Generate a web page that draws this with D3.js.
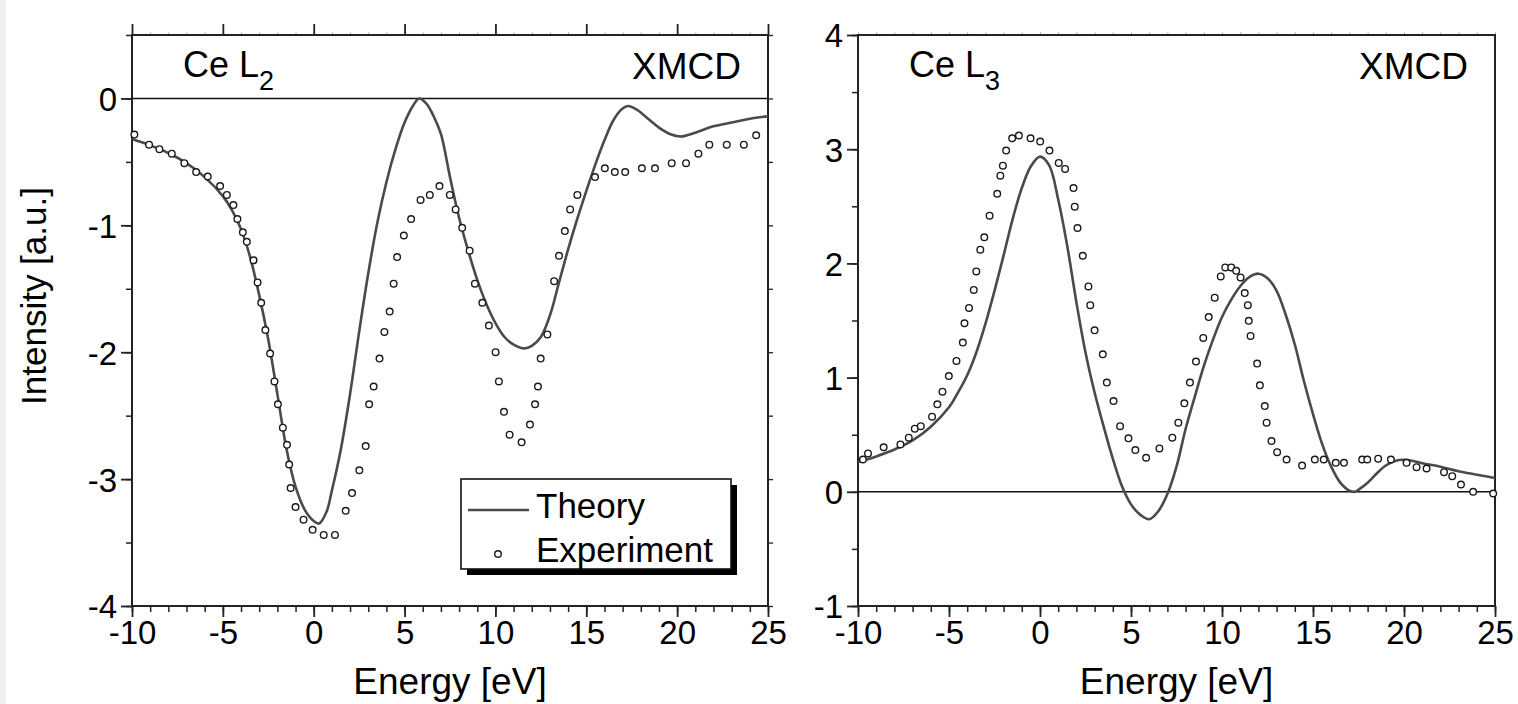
<!DOCTYPE html>
<html><head><meta charset="utf-8">
<script src="https://cdn.jsdelivr.net/npm/d3@7"></script>
<style>
html,body{margin:0;padding:0;background:#fff;}
svg{display:block;font-family:"Liberation Sans",Arial,sans-serif;}
</style></head>
<body><svg id="c" width="1518" height="704"></svg>
<script>
// ---------- data ----------
const energyTicks = [-10,-5,0,5,10,15,20,25];
const l2Ticks = [0,-1,-2,-3,-4];
const l3Ticks = [4,3,2,1,0,-1];

const l2Theory = [[-10,-0.32],[-9,-0.37],[-8,-0.43],[-7,-0.51],[-6,-0.62],[-5,-0.77],[-4.5,-0.88],[-4,-1.03],
 [-3.5,-1.25],[-3,-1.55],[-2.5,-1.9],[-2,-2.33],[-1.5,-2.76],[-1,-3.06],[-0.5,-3.24],[0,-3.33],[0.3,-3.35],
 [0.7,-3.26],[1,-3.09],[1.5,-2.76],[2,-2.33],[2.5,-1.84],[3,-1.38],[3.5,-0.98],[4,-0.66],[4.5,-0.4],[5,-0.19],
 [5.5,-0.05],[5.8,0.0],[6.2,-0.04],[6.6,-0.14],[7,-0.28],[7.5,-0.62],[8,-0.94],[8.5,-1.2],[9,-1.43],[9.5,-1.62],
 [10,-1.77],[10.5,-1.88],[11,-1.94],[11.6,-1.97],[12,-1.95],[12.5,-1.88],[13,-1.71],[13.5,-1.45],[14,-1.19],
 [14.5,-0.95],[15,-0.73],[15.5,-0.52],[16,-0.33],[16.5,-0.17],[17,-0.08],[17.3,-0.06],[17.8,-0.09],[18.4,-0.16],
 [19,-0.23],[19.6,-0.28],[20.2,-0.3],[21,-0.27],[22,-0.22],[23,-0.19],[24,-0.16],[25,-0.14]];

const l2Experiment = [[-9.87,-0.285],[-9.06,-0.364],[-8.49,-0.4],[-7.81,-0.435],[-7.12,-0.51],[-6.47,-0.58],
 [-5.83,-0.615],[-5.15,-0.69],[-4.78,-0.76],[-4.42,-0.84],[-4.2,-0.95],[-3.9,-1.055],[-3.68,-1.13],[-3.31,-1.275],
 [-3.09,-1.45],[-2.89,-1.61],[-2.66,-1.825],[-2.4,-2.01],[-2.16,-2.23],[-1.97,-2.41],[-1.7,-2.595],[-1.47,-2.73],
 [-1.35,-2.885],[-1.27,-3.07],[-1.0,-3.22],[-0.56,-3.32],[-0.06,-3.4],[0.55,-3.44],[1.17,-3.44],[1.76,-3.25],
 [2.11,-3.11],[2.51,-2.93],[2.86,-2.74],[3.05,-2.41],[3.3,-2.27],[3.62,-2.05],[3.89,-1.84],[4.18,-1.68],[4.4,-1.46],
 [4.59,-1.25],[4.96,-1.08],[5.36,-0.95],[5.88,-0.8],[6.39,-0.76],[6.92,-0.69],[7.49,-0.76],[7.81,-0.875],
 [8.17,-1.02],[8.58,-1.2],[8.87,-1.46],[9.28,-1.61],[9.64,-1.79],[10.01,-2.0],[10.19,-2.23],[10.47,-2.47],
 [10.78,-2.65],[11.44,-2.71],[11.9,-2.57],[12.18,-2.41],[12.34,-2.27],[12.49,-2.05],[12.86,-1.86],[13.23,-1.44],
 [13.5,-1.24],[13.82,-1.045],[14.11,-0.875],[14.51,-0.76],[15.48,-0.62],[16.02,-0.55],[16.57,-0.58],[17.14,-0.58],
 [18.06,-0.55],[18.78,-0.55],[19.7,-0.51],[20.49,-0.51],[21.17,-0.435],[21.77,-0.364],[22.73,-0.364],[23.67,-0.364],
 [24.35,-0.29]];

const l3Theory = [[-10,0.26],[-9,0.31],[-8,0.37],[-7,0.45],[-6,0.57],[-5,0.74],[-4.5,0.87],[-4,1.02],[-3.5,1.22],
 [-3,1.47],[-2.5,1.76],[-2,2.07],[-1.5,2.39],[-1,2.66],[-0.5,2.85],[0,2.935],[0.5,2.86],[1,2.56],[1.5,2.15],
 [2,1.66],[2.5,1.22],[3,0.87],[3.5,0.57],[4,0.29],[4.5,0.05],[5,-0.11],[5.5,-0.2],[6,-0.24],[6.5,-0.17],[7,-0.02],
 [7.5,0.22],[8,0.55],[8.5,0.83],[9,1.1],[9.5,1.33],[10,1.53],[10.5,1.68],[11,1.8],[11.5,1.88],[12,1.91],[12.5,1.87],
 [13,1.76],[13.5,1.55],[14,1.29],[14.5,0.97],[15,0.68],[15.5,0.42],[16,0.22],[16.5,0.08],[17,0.01],[17.3,0.0],
 [17.6,0.03],[18,0.08],[18.5,0.16],[19,0.23],[19.5,0.27],[20,0.28],[20.5,0.27],[21,0.25],[22,0.22],[23,0.18],
 [24,0.15],[25,0.12]];

const l3Experiment = [[-9.73,0.283],[-9.45,0.336],[-8.59,0.39],[-7.67,0.415],[-7.21,0.474],[-6.88,0.553],
 [-6.55,0.575],[-5.93,0.658],[-5.64,0.766],[-5.36,0.877],[-5.01,1.014],[-4.59,1.146],[-4.24,1.307],[-4.15,1.476],
 [-3.9,1.61],[-3.64,1.768],[-3.5,1.93],[-3.28,2.12],[-3.06,2.228],[-2.77,2.418],[-2.35,2.61],[-2.18,2.768],
 [-2.04,2.856],[-1.86,2.988],[-1.53,3.096],[-1.16,3.12],[-0.52,3.096],[0.01,3.067],[0.52,2.988],[1.03,2.88],
 [1.38,2.827],[1.84,2.66],[1.91,2.497],[2.06,2.31],[2.35,2.067],[2.66,1.798],[2.76,1.634],[3.0,1.414],[3.45,1.204],
 [3.67,0.956],[4.04,0.795],[4.4,0.575],[4.86,0.468],[5.24,0.365],[5.83,0.298],[6.56,0.38],[7.27,0.474],[7.6,0.605],
 [7.93,0.775],[8.24,0.956],[8.57,1.14],[8.97,1.347],[9.27,1.53],[9.6,1.7],[9.93,1.886],[10.18,1.965],[10.51,1.965],
 [10.78,1.935],[11.02,1.877],[11.25,1.74],[11.42,1.634],[11.47,1.497],[11.57,1.365],[11.93,1.123],[12.08,0.932],
 [12.35,0.751],[12.45,0.605],[12.72,0.444],[13.03,0.347],[13.55,0.283],[14.4,0.23],[15.1,0.283],[15.59,0.283],
 [16.25,0.254],[16.7,0.254],[17.7,0.283],[17.98,0.283],[18.58,0.29],[19.28,0.283],[20.14,0.254],[20.69,0.216],
 [21.24,0.204],[22.2,0.172],[22.65,0.137],[23.13,0.064],[23.8,0.0],[24.9,-0.015]];

const legendLabels = ["Theory","Experiment"];

// ---------- drawing ----------
const svg = d3.select("#c");
svg.append("rect").attr("x",0).attr("y",0).attr("width",6).attr("height",704).attr("fill","#f0f0f0");

const AX = "#222", LINE = "#4a4a4a";
const FONT = "Liberation Sans, Arial, sans-serif";
const fmt = d => String(d);

function panel(o){
  const x = d3.scaleLinear().domain([-10,25]).range([o.left,o.right]);
  const y = d3.scaleLinear().domain(o.ydom).range([o.bottom,o.top]);
  const g = svg.append("g");
  const minorX = d3.range(-10,25.001,1);
  const minorY = d3.range(o.ydom[0],o.ydom[1]+0.001,0.5);

  function styleAxis(sel, col, w){
    sel.select(".domain").remove();
    sel.selectAll(".tick line").attr("stroke",col).attr("stroke-width",w);
  }
  // bottom
  g.append("g").attr("transform",`translate(0,${o.bottom})`)
    .call(d3.axisBottom(x).tickValues(minorX).tickSize(6).tickFormat(""))
    .call(s=>styleAxis(s,AX,1.5));
  g.append("g").attr("transform",`translate(0,${o.bottom})`)
    .call(d3.axisBottom(x).tickValues(energyTicks).tickSize(11).tickPadding(4).tickFormat(fmt))
    .call(s=>styleAxis(s,AX,1.8))
    .call(s=>s.selectAll("text").attr("fill","#000").attr("font-size",33).attr("font-family",FONT));
  // left
  g.append("g").attr("transform",`translate(${o.left},0)`)
    .call(d3.axisLeft(y).tickValues(minorY).tickSize(6).tickFormat(""))
    .call(s=>styleAxis(s,AX,1.5));
  g.append("g").attr("transform",`translate(${o.left},0)`)
    .call(d3.axisLeft(y).tickValues(o.yticks).tickSize(11).tickPadding(4).tickFormat(fmt))
    .call(s=>styleAxis(s,AX,1.8))
    .call(s=>s.selectAll("text").attr("fill","#000").attr("font-size",33).attr("font-family",FONT).attr("dy","0.36em"));
  // top
  g.append("g").attr("transform",`translate(0,${o.top})`)
    .call(d3.axisTop(x).tickValues(minorX).tickSize(3).tickFormat(""))
    .call(s=>styleAxis(s,"#bbb",1));
  if(o.fullFrame){
    g.append("g").attr("transform",`translate(0,${o.top})`)
      .call(d3.axisTop(x).tickValues(energyTicks).tickSize(11).tickFormat(""))
      .call(s=>styleAxis(s,AX,1.8));
    g.append("g").attr("transform",`translate(${o.right},0)`)
      .call(d3.axisRight(y).tickValues(minorY).tickSize(5).tickFormat(""))
      .call(s=>styleAxis(s,AX,1.3));
  }
  // frame
  g.append("rect").attr("x",o.left).attr("y",o.top).attr("width",o.right-o.left).attr("height",o.bottom-o.top)
    .attr("fill","none").attr("stroke",AX).attr("stroke-width",2);
  // zero line
  g.append("line").attr("x1",o.left).attr("x2",o.right).attr("y1",y(0)).attr("y2",y(0))
    .attr("stroke","#111").attr("stroke-width",1.6);
  // theory
  const line = d3.line().x(d=>x(d[0])).y(d=>y(d[1])).curve(d3.curveCatmullRom.alpha(0.5));
  g.append("path").datum(o.theory).attr("d",line).attr("fill","none").attr("stroke",LINE).attr("stroke-width",2.6);
  // experiment
  g.selectAll("circle.exp").data(o.exp).join("circle").attr("class","exp")
    .attr("cx",d=>x(d[0])).attr("cy",d=>y(d[1])).attr("r",3.3)
    .attr("fill","#fff").attr("stroke","#1a1a1a").attr("stroke-width",1.4);
  // labels
  const lab = g.append("text").attr("x",o.left+51).attr("y",77).attr("font-size",36).attr("fill","#000");
  lab.append("tspan").text("Ce L");
  lab.append("tspan").attr("dy",13).attr("font-size",27).text(o.sub);
  g.append("text").attr("x",o.right-27).attr("y",79).attr("text-anchor","end").attr("font-size",37).attr("fill","#000").text("XMCD");
  g.append("text").attr("x",(o.left+o.right)/2).attr("y",694).attr("text-anchor","middle").attr("font-size",37).attr("fill","#000").text("Energy [eV]");
  return {x,y,g};
}

const P1 = panel({left:132,right:768,top:35,bottom:606,ydom:[-4,0.5],yticks:l2Ticks,theory:l2Theory,exp:l2Experiment,sub:"2",fullFrame:true});
const P2 = panel({left:858,right:1495,top:35,bottom:606,ydom:[-1,4],yticks:l3Ticks,theory:l3Theory,exp:l3Experiment,sub:"3",fullFrame:false});

// y axis title
svg.append("text").attr("transform","translate(46,296) rotate(-90)").attr("text-anchor","middle")
  .attr("font-size",35).attr("fill","#000").text("Intensity [a.u.]");

// legend
const lg = svg.append("g");
lg.append("rect").attr("x",467).attr("y",485).attr("width",270).attr("height",90).attr("fill","#000");
lg.append("rect").attr("x",461).attr("y",479).attr("width",270).attr("height",90).attr("fill","#fff").attr("stroke","#111").attr("stroke-width",1.6);
lg.append("line").attr("x1",468).attr("x2",529).attr("y1",510).attr("y2",510).attr("stroke",LINE).attr("stroke-width",2.6);
lg.append("circle").attr("cx",498).attr("cy",554).attr("r",3.3).attr("fill","#fff").attr("stroke","#1a1a1a").attr("stroke-width",1.4);
lg.selectAll("text").data(legendLabels).join("text").attr("x",536).attr("y",(d,i)=>518+i*44)
  .attr("font-size",35).attr("fill","#000").text(d=>d);
</script></body></html>
